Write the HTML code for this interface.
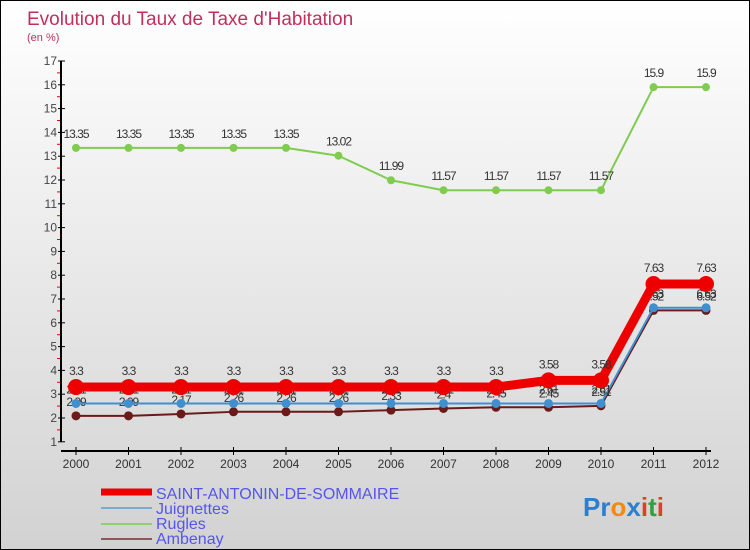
<!DOCTYPE html>
<html><head><meta charset="utf-8"><style>
body{margin:0}
#c{width:750px;height:550px;position:relative;background:linear-gradient(#ffffff,#d2d2d2);font-family:"Liberation Sans",sans-serif;overflow:hidden;box-sizing:border-box;border:1px solid #000}
</style></head><body>
<div id="c">
<svg id="s" width="750" height="550" xmlns="http://www.w3.org/2000/svg" style="position:absolute;left:0;top:0">
<text x="26" y="24" font-size="19" fill="#c0305a">Evolution du Taux de Taxe d'Habitation</text>
<text x="26" y="40" font-size="11" fill="#c0305a">(en %)</text>
<g id="axes"></g><g id="series"></g>
<g>
<line x1="100" y1="491" x2="151" y2="491" stroke="#e00" stroke-width="7"/>
<text x="155" y="498" font-size="16" fill="#5555ee">SAINT-ANTONIN-DE-SOMMAIRE</text>
<line x1="100" y1="507" x2="151" y2="507" stroke="#7aaccc" stroke-width="2"/>
<text x="155" y="513" font-size="16" fill="#5555ee">Juignettes</text>
<line x1="100" y1="523" x2="151" y2="523" stroke="#90d070" stroke-width="2"/>
<text x="155" y="528" font-size="16" fill="#5555ee">Rugles</text>
<line x1="100" y1="538" x2="151" y2="538" stroke="#8a5a5a" stroke-width="2"/>
<text x="155" y="543" font-size="16" fill="#5555ee">Ambenay</text>
</g>
<text x="582" y="515" font-size="26" font-weight="bold"><tspan fill="#2a7fd0">Pr</tspan><tspan fill="#f08a10">o</tspan><tspan fill="#2a7fd0">x</tspan><tspan fill="#e04020">i</tspan><tspan fill="#30a040">t</tspan><tspan fill="#e04020">i</tspan></text>
</svg>
</div>
<script>
const years=[2000,2001,2002,2003,2004,2005,2006,2007,2008,2009,2010,2011,2012];
const saint=[3.3,3.3,3.3,3.3,3.3,3.3,3.3,3.3,3.3,3.58,3.58,7.63,7.63];
const juign=[2.61,2.61,2.61,2.61,2.61,2.61,2.61,2.61,2.61,2.61,2.61,6.63,6.63];
const rugles=[13.35,13.35,13.35,13.35,13.35,13.02,11.99,11.57,11.57,11.57,11.57,15.9,15.9];
const amb=[2.09,2.09,2.17,2.26,2.26,2.26,2.33,2.4,2.45,2.45,2.51,6.52,6.52];
const yTicks=[1,2,3,4,5,6,7,8,9,10,11,12,13,14,15,16,17];
const NS="http://www.w3.org/2000/svg";
const X=i=>75+i*52.5, Y=v=>60+(17-v)*23.8;
function mk(p,t,a){const e=document.createElementNS(NS,t);for(const k in a)e.setAttribute(k,a[k]);p.appendChild(e);return e;}
const ax=document.getElementById('axes');
let e=mk(ax,'line',{x1:60,y1:Y(17),x2:60,y2:Y(1),stroke:'#000','stroke-width':2});

e=mk(ax,'line',{x1:60,y1:450,x2:710,y2:450,stroke:'#000','stroke-width':2});

yTicks.forEach(v=>{
 mk(ax,'line',{x1:57,y1:Y(v),x2:64,y2:Y(v),stroke:'#000'});
 if(v<17)mk(ax,'line',{x1:56,y1:Y(v+0.5),x2:59,y2:Y(v+0.5),stroke:'#e00'});
 const t=mk(ax,'text',{x:56,y:Y(v)+4,'font-size':12,fill:'#444','text-anchor':'end'});t.textContent=v;
 
});
years.forEach((yr,i)=>{
 mk(ax,'line',{x1:X(i),y1:446,x2:X(i),y2:454,stroke:'#000'});
 const t=mk(ax,'text',{x:X(i),y:467,'font-size':12,fill:'#333','text-anchor':'middle'});t.textContent=yr;
 
});
const sg=document.getElementById('series');
function draw(name,vals,col,w,r,dy){
 const g=mk(sg,'g',{});
 
 const pl=mk(g,'polyline',{points:vals.map((v,i)=>X(i)+','+Y(v)).join(' '),fill:'none',stroke:col,'stroke-width':w,'stroke-linejoin':'round'});
 
 vals.forEach((v,i)=>{
  const c=mk(g,'circle',{cx:X(i),cy:Y(v),r:r,fill:col});
  
  const t=mk(g,'text',{x:X(i),y:Y(v)-dy,'font-size':12,fill:'#333','text-anchor':'middle','letter-spacing':'-1'});t.textContent=v;
  
 });
}
draw('rugles',rugles,'#80cc50',2,4,10);
draw('ambenay',amb,'#6b1a1a',2,4.5,10);
draw('juignettes',juign,'#4090d0',2,4.5,10);
draw('saint-antonin',saint,'#ee0000',9,8,12);
</script>
</body></html>
